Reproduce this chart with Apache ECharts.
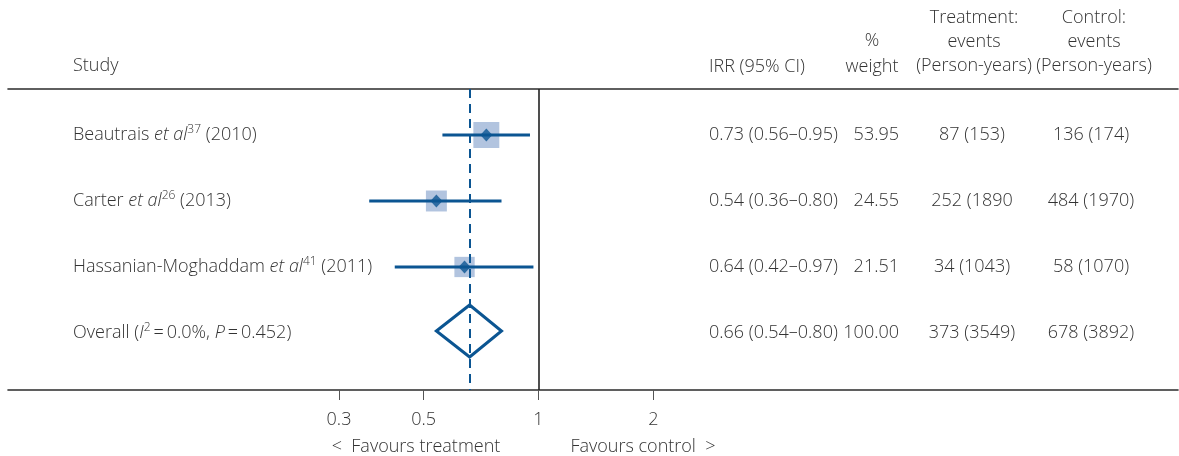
<!DOCTYPE html>
<html>
<head>
<meta charset="utf-8">
<script src="https://cdn.jsdelivr.net/npm/echarts@6/dist/echarts.min.js"></script>
<style>
html,body{margin:0;padding:0;background:#fff;}
#chart{width:1179px;height:456px;}
</style>
</head>
<body>
<div id="chart"></div>
<script>
// ---- data ----
const studies = [
  'Beautrais {i|et al}{sup|37} (2010)',
  'Carter {i|et al}{sup|26} (2013)',
  'Hassanian-Moghaddam {i|et al}{sup|41} (2011)',
  'Overall ({i|I}{sup|2}\u2009=\u20090.0%, {i|P}\u2009=\u20090.452)'
];
const est = [0.73, 0.54, 0.64];
const lo = [0.56, 0.36, 0.42];
const hi = [0.95, 0.80, 0.97];
const weights = [53.95, 24.55, 21.51];
const overall = {est: 0.66, lo: 0.54, hi: 0.80};
const irrText = ['0.73 (0.56\u20130.95)', '0.54 (0.36\u20130.80)', '0.64 (0.42\u20130.97)', '0.66 (0.54\u20130.80)'];
const weightText = ['53.95', '24.55', '21.51', '100.00'];
const treatText = ['87 (153)', '252 (1890', '34 (1043)', '373 (3549)'];
const controlText = ['136 (174)', '484 (1970)', '58 (1070)', '678 (3892)'];
const xTicks = [0.3, 0.5, 1, 2];

// ---- style ----
const FONT = '"Open Sans", "Noto Sans", sans-serif';
const TXT = '#333333';
const BLUE = '#0b5592';
const SQUARE = '#b2c4df';
const FS = 18;
const richStyles = {
  i: {fontStyle: 'italic', fontSize: FS, fontFamily: FONT, fill: TXT, fontWeight: 300, lineHeight: 22},
  sup: {fontSize: 12, fontFamily: FONT, fill: TXT, fontWeight: 300, lineHeight: 12, verticalAlign: 'top'}
};

const chart = echarts.init(document.getElementById('chart'), null, {renderer: 'canvas'});

function txt(x, y, text, align) {
  return {type: 'text', x: x, y: y, style: {text: text, fill: TXT, fontSize: FS, fontFamily: FONT, fontWeight: 300,
    align: align || 'left', verticalAlign: 'middle', textAlign: align || 'left', textVerticalAlign: 'middle'}};
}

const rows = studies.map((s, i) => i);

const option = {
  animation: false,
  grid: {left: 8, right: 1, top: 89, bottom: 66, containLabel: false},
  xAxis: [{
    type: 'log', min: 0.04069, max: 47.46, position: 'bottom',
    axisLine: {show: true, onZero: false, lineStyle: {color: '#2b2b2b', width: 1.6}},
    axisTick: {show: true, customValues: xTicks, length: 10, lineStyle: {color: '#555', width: 1}},
    axisLabel: {show: true, customValues: xTicks, margin: 21, fontSize: FS, fontFamily: FONT, fontWeight: 300, color: TXT,
      formatter: v => String(+(+v).toPrecision(3))},
    splitLine: {show: false}, minorTick: {show: false}
  }, {
    type: 'log', min: 0.04069, max: 47.46, position: 'top',
    axisLine: {show: true, onZero: false, lineStyle: {color: '#2b2b2b', width: 1.6}},
    axisTick: {show: false}, axisLabel: {show: false}, splitLine: {show: false}
  }],
  yAxis: {type: 'value', inverse: true, min: -0.697, max: 3.864, show: false},
  graphic: [
    txt(73, 66, 'Study'),
    txt(709, 67, 'IRR (95% CI)'),
    txt(872, 41, '%', 'center'),
    txt(872, 67, 'weight', 'center'),
    txt(974, 18, 'Treatment:', 'center'),
    txt(974, 42, 'events', 'center'),
    txt(974, 66, '(Person-years)', 'center'),
    txt(1094, 18, 'Control:', 'center'),
    txt(1094, 42, 'events', 'center'),
    txt(1094, 66, '(Person-years)', 'center'),
    txt(416, 447, '<  Favours treatment', 'center'),
    txt(643, 447, 'Favours control  >', 'center')
  ],
  series: [
    {
      name: 'weight', type: 'scatter', symbol: 'rect',
      data: est.map((e, i) => [e, i, weights[i]]),
      symbolSize: v => 10.6 + 2.09 * Math.sqrt(v[2]),
      itemStyle: {color: SQUARE, opacity: 1}, silent: true, z: 2,
      markLine: {
        silent: true, symbol: 'none', label: {show: false},
        data: [
          {xAxis: 1, lineStyle: {color: '#222', width: 1.6, type: 'solid'}},
          {xAxis: overall.est, lineStyle: {color: BLUE, width: 2, type: [9, 6]}}
        ]
      }
    },
    {
      name: 'ci', type: 'custom', z: 3, silent: true,
      data: est.map((e, i) => [lo[i], hi[i], i]),
      encode: {x: [0, 1], y: 2},
      renderItem: (params, api) => {
        const p1 = api.coord([api.value(0), api.value(2)]);
        const p2 = api.coord([api.value(1), api.value(2)]);
        return {type: 'line', shape: {x1: p1[0], y1: p1[1], x2: p2[0], y2: p2[1]},
          style: {stroke: BLUE, lineWidth: 3}};
      }
    },
    {
      name: 'est', type: 'scatter', symbol: 'diamond', symbolSize: [12, 13], z: 4, silent: true,
      data: est.map((e, i) => [e, i]),
      itemStyle: {color: BLUE}
    },
    {
      name: 'overall', type: 'custom', z: 4, silent: true,
      data: [[overall.lo, overall.est, overall.hi, 3]],
      encode: {x: [0, 2], y: 3},
      renderItem: (params, api) => {
        const y = api.value(3);
        const l = api.coord([api.value(0), y]);
        const c = api.coord([api.value(1), y]);
        const r = api.coord([api.value(2), y]);
        const h = 26;
        return {type: 'polygon', shape: {points: [[l[0], l[1] - 2], [c[0], c[1] - 2 - h], [r[0], r[1] - 2], [c[0], c[1] - 2 + h]]},
          style: {fill: 'none', stroke: BLUE, lineWidth: 3, lineJoin: 'miter'}};
      }
    },
    {
      name: 'table', type: 'custom', z: 5, silent: true,
      data: rows.map(i => [1, i]),
      encode: {x: 0, y: 1},
      clip: false,
      renderItem: (params, api) => {
        const i = params.dataIndex;
        const y = api.coord([1, api.value(1)])[1];
        return {type: 'group', children: [
          {type: 'text', x: 73, y: y, style: {text: studies[i], rich: richStyles, fill: TXT, fontSize: FS, fontFamily: FONT,
            fontWeight: 300, lineHeight: 22, align: 'left', verticalAlign: 'middle'}},
          txt(709, y, irrText[i]),
          txt(899, y, weightText[i], 'right'),
          txt(972, y, treatText[i], 'center'),
          txt(1091, y, controlText[i], 'center')
        ]};
      }
    }
  ]
};
chart.setOption(option);
</script>
</body>
</html>
